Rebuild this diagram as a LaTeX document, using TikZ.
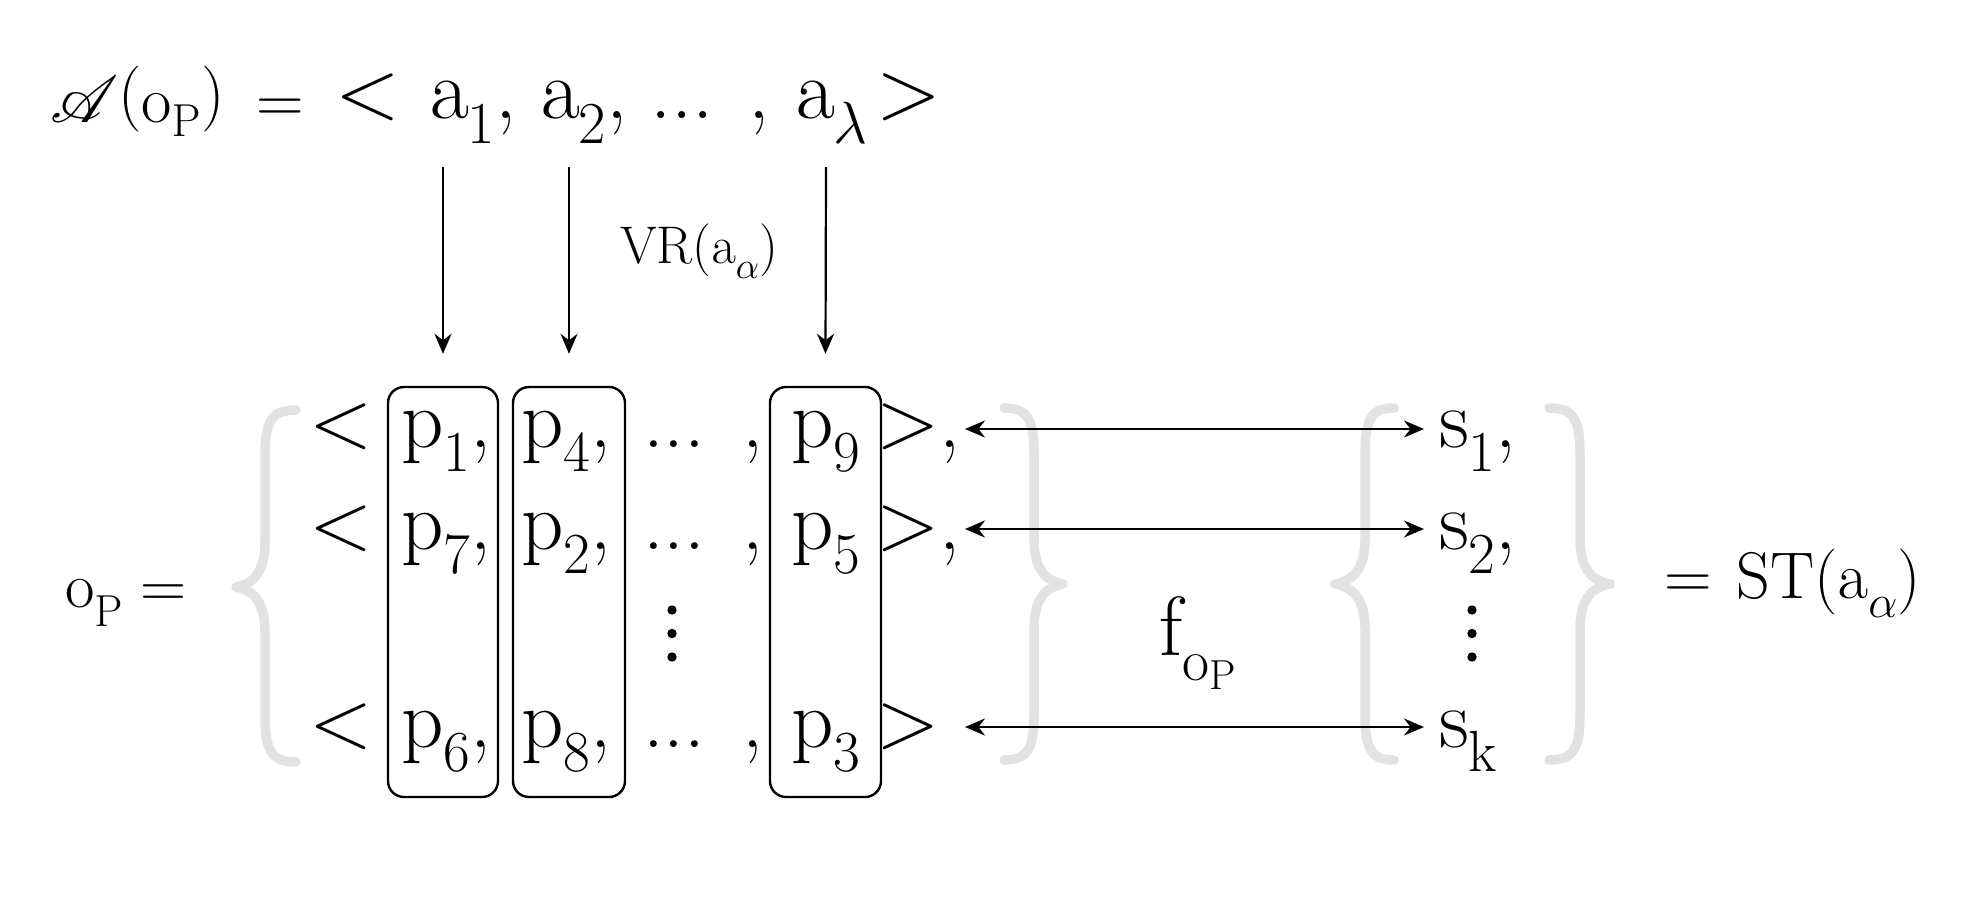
\RequirePackage{fix-cm}
\documentclass[tikz,border=0pt]{standalone}
\usepackage{amsmath}
\usepackage{graphicx}
\usepackage{mathrsfs}
\usetikzlibrary{arrows.meta}
\newcommand{\fsz}[1]{\fontsize{#1}{#1}\selectfont}
\newcommand{\dsub}[1]{_{\lower0.15em\hbox{$\scriptstyle #1$}}}
\definecolor{bracegray}{RGB}{226,226,226}
\newcommand{\bracepath}[6]{% #1 tip x, #2 bar x, #3 end x, #4 top y, #5 mid y, #6 bottom y
  \draw[gbrace] (#3,#4) .. controls ({#2+0.25*(#3-#2)},#4) and (#2,{#4+10}) .. (#2,{#4+45})
   -- (#2,{#5-45}) .. controls (#2,{#5-15}) and ({#2+0.4*(#1-#2)},{#5-3}) .. (#1,#5)
   .. controls ({#2+0.4*(#1-#2)},{#5+3}) and (#2,{#5+15}) .. (#2,{#5+45})
   -- (#2,{#6-45}) .. controls (#2,{#6-10}) and ({#2+0.25*(#3-#2)},#6) .. (#3,#6);}
\tikzset{
  txt/.style={inner sep=0pt, outer sep=0pt, anchor=base west},
  bigt/.style={txt, font=\fsz{85pt}},
  rowt/.style={txt, font=\fsz{83pt}},
  colbox/.style={draw, rounded corners=16pt, line width=2.4pt, inner sep=0pt},
  conn/.style={line width=2.2pt, -{Stealth[length=20pt,width=17pt]}},
  dconn/.style={line width=2.2pt, {Stealth[length=20pt,width=17pt]}-{Stealth[length=20pt,width=17pt]}},
  gbrace/.style={draw=bracegray, line width=9.5pt, line cap=round, line join=round},
  vdot/.style={fill=black},
}
\begin{document}
\begin{tikzpicture}[x=1pt,y=-1pt]
\useasboundingbox[fill=white] (0,0) rectangle (1984,918);

% braces
\bracepath{236}{265}{296}{410}{587}{762}
\bracepath{1063}{1034}{1004}{408}{584}{760}
\bracepath{1335}{1365}{1394}{408}{584}{760}
\bracepath{1610}{1580}{1549}{408}{584}{760}

% title
\node[txt, font=\fsz{66pt}] (tl) at (50,122) {\scalebox{6.6}{\fontsize{10pt}{12pt}\selectfont$\mathscr{A}$}$\raisebox{7pt}{$($}\mathrm{o}_{\lower0.07em\hbox{$\scriptstyle\mathrm{P}$}}\raisebox{7pt}{$)$}\hspace{14pt} =$};
\node[bigt] (lt0) at (335,118) {$<$};
\node[bigt] (a1) at (429,118) {$\mathrm{a}\dsub{1}$,};
\node[bigt] (a2) at (540,118) {$\mathrm{a}\dsub{2}$,};
\node[bigt] (d0) at (650,118) {...};
\node[bigt] (c0) at (748,118) {,};
\node[bigt] (al) at (795,118) {$\mathrm{a}\dsub{\lambda}$};
\node[bigt] (gt0) at (876,118) {$>$};

% label
\node[txt, font=\fsz{53pt}] (vr) at (620,263) {VR$(\mathrm{a}\dsub{\alpha})$};

% column boxes
\node[colbox, minimum width=110pt, minimum height=410pt] (box1) at (443,592) {};
\node[colbox, minimum width=112pt, minimum height=410pt] (box2) at (569,592) {};
\node[colbox, minimum width=111pt, minimum height=410pt] (box3) at (825.5,592) {};

% arrows down
\coordinate (v1) at (443,167);
\coordinate (v2) at (569,167);
\coordinate (v3) at (826,167);
\draw[conn] (v1) -- ([yshift=32pt]box1.north);
\draw[conn] (v2) -- ([yshift=32pt]box2.north);
\draw[conn] (v3) -- ([yshift=32pt]box3.north);

% left side
\node[txt, font=\fsz{64pt}] (op) at (65,607) {$\mathrm{o}\dsub{\mathrm{P}} =$};

% rows
\node[rowt] (lt1) at (309,447) {$<$};
\node[rowt] (p1) at (401,447) {$\mathrm{p}\dsub{1}$,};
\node[rowt] (p4) at (521,447) {$\mathrm{p}\dsub{4}$,};
\node[rowt] (d1) at (643,447) {...};
\node[rowt] (c1) at (742,447) {,};
\node[rowt] (p9) at (791,447) {$\mathrm{p}\dsub{9}$};
\node[rowt] (gt1) at (876,447) {$>$,};

\node[rowt] (lt2) at (309,549) {$<$};
\node[rowt] (p7) at (401,549) {$\mathrm{p}\dsub{7}$,};
\node[rowt] (p2) at (521,549) {$\mathrm{p}\dsub{2}$,};
\node[rowt] (d2) at (643,549) {...};
\node[rowt] (c2) at (742,549) {,};
\node[rowt] (p5) at (791,549) {$\mathrm{p}\dsub{5}$};
\node[rowt] (gt2) at (876,549) {$>$,};

\node[rowt] (lt3) at (309,747) {$<$};
\node[rowt] (p6) at (401,747) {$\mathrm{p}\dsub{6}$,};
\node[rowt] (p8) at (521,747) {$\mathrm{p}\dsub{8}$,};
\node[rowt] (d3) at (643,747) {...};
\node[rowt] (c3) at (742,747) {,};
\node[rowt] (p3) at (791,747) {$\mathrm{p}\dsub{3}$};
\node[rowt] (gt3) at (876,747) {$>$\phantom{,}};

% vertical dots
\fill[vdot] (672,610) circle (4.7) (672,633.5) circle (4.7) (672,657) circle (4.7);
\fill[vdot] (1472,610) circle (4.7) (1472,633.5) circle (4.7) (1472,657) circle (4.7);

% right side
\node[rowt] (s1) at (1439,447) {$\mathrm{s}\dsub{1}$,};
\node[rowt] (s2) at (1439,549) {$\mathrm{s}\dsub{2}$,};
\node[rowt] (sk) at (1439,747) {$\mathrm{s}\dsub{\mathrm{k}}$};

\draw[dconn] ([xshift=5pt,yshift=18pt]gt1.base east) -- ([xshift=-15pt,yshift=18pt]s1.base west);
\draw[dconn] ([xshift=5pt,yshift=20pt]gt2.base east) -- ([xshift=-15pt,yshift=20pt]s2.base west);
\draw[dconn] ([xshift=5pt,yshift=20pt]gt3.base east) -- ([xshift=-15pt,yshift=20pt]sk.base west);

\node[txt, font=\fsz{84pt}] (f) at (1159,655) {$\mathrm{f}\dsub{\mathrm{o}_{\mathrm{P}}}$};

\node[txt, font=\fsz{66pt}] (st) at (1664,598) {$=\hspace{7pt}\mathrm{ST}(\mathrm{a}\dsub{\alpha})$};
\end{tikzpicture}
\end{document}
